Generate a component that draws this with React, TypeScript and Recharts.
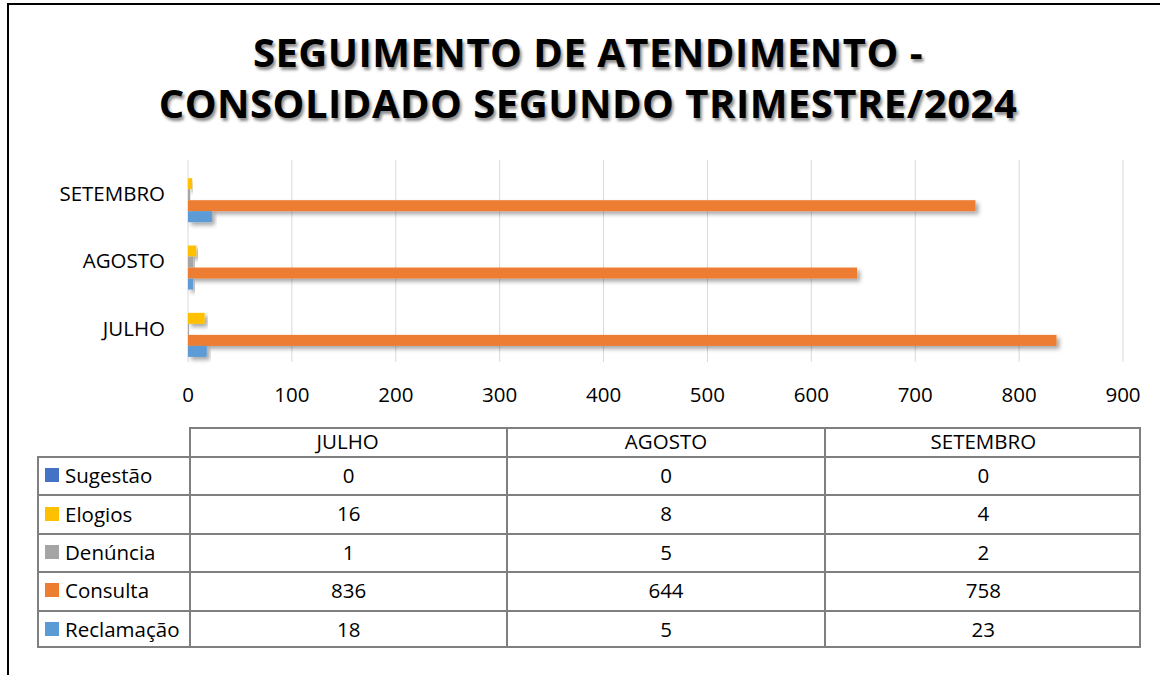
import React from 'react';
import { BarChart, Bar, XAxis, YAxis, CartesianGrid } from 'recharts';

const categories = ['JULHO', 'AGOSTO', 'SETEMBRO'];
const sugestao = [0, 0, 0];
const elogios = [16, 8, 4];
const denuncia = [1, 5, 2];
const consulta = [836, 644, 758];
const reclamacao = [18, 5, 23];
const xTicks = [0, 100, 200, 300, 400, 500, 600, 700, 800, 900];

const series = [
  { key: 'sugestao', name: 'Sugestão', color: '#4472C4', values: sugestao },
  { key: 'elogios', name: 'Elogios', color: '#FFC000', values: elogios },
  { key: 'denuncia', name: 'Denúncia', color: '#A5A5A5', values: denuncia },
  { key: 'consulta', name: 'Consulta', color: '#ED7D31', values: consulta },
  { key: 'reclamacao', name: 'Reclamação', color: '#5B9BD5', values: reclamacao },
];

const data = categories.map((month, i) => {
  const row: Record<string, any> = { month };
  series.forEach((s) => {
    row[s.key] = s.values[i];
  });
  return row;
});

const FONT = '"Open Sans", sans-serif';
const FS = 20.5;

const makeShape = (color: string) => (props: any) => {
  const { x, y, width, height } = props;
  if (!width || width <= 0) return <g />;
  return (
    <rect x={x} y={y} width={width} height={height} fill={color} filter="url(#barShadow)" />
  );
};

const GRID = '#7F7F7F';

export default function App() {
  const tableLeft = 37;
  const labelRight = 189;
  const tableRight = 1141;
  const headerTop = 427;
  const headerBottom = 456;
  const rowH = 38.4;
  const colW = (tableRight - labelRight) / categories.length;

  return (
    <div
      style={{
        position: 'absolute',
        left: 0,
        top: 0,
        width: 1160,
        height: 675,
        background: '#fff',
        overflow: 'hidden',
        fontFamily: FONT,
        color: '#000',
      }}
    >
      <div
        style={{
          position: 'absolute',
          left: 7,
          top: 3,
          width: 1200,
          height: 700,
          borderTop: '2px solid #000',
          borderLeft: '2px solid #000',
        }}
      />
      <div
        style={{
          position: 'absolute',
          left: 8,
          top: 26,
          width: 1160,
          textAlign: 'center',
          fontSize: 40,
          fontWeight: 700,
          lineHeight: '51px',
          letterSpacing: 0.5,
          textShadow: '2px 3px 3px rgba(0,0,0,0.45)',
        }}
      >
        SEGUIMENTO DE ATENDIMENTO -
        <br />
        CONSOLIDADO SEGUNDO TRIMESTRE/2024
      </div>

      <div style={{ position: 'absolute', left: 0, top: 0 }}>
        <BarChart
          width={1160}
          height={420}
          data={data}
          layout="vertical"
          margin={{ top: 160, right: 37, left: 0, bottom: 0 }}
          barCategoryGap="10.7%"
          barGap={0}
        >
          <defs>
            <filter id="barShadow" x="-10%" y="-50%" width="130%" height="250%">
              <feDropShadow dx="3" dy="3" stdDeviation="2" floodColor="#000" floodOpacity="0.35" />
            </filter>
          </defs>
          <CartesianGrid horizontal={false} vertical={true} stroke="#D9D9D9" strokeWidth={1} />
          <XAxis
            type="number"
            domain={[0, 900]}
            ticks={xTicks}
            interval={0}
            axisLine={false}
            tickLine={false}
            tickSize={0}
            tickMargin={25}
            height={58}
            tick={{ fill: '#000', fontSize: FS, fontFamily: FONT }}
          />
          <YAxis
            type="category"
            dataKey="month"
            reversed
            width={188}
            axisLine={false}
            tickLine={false}
            tickSize={0}
            tickMargin={23}
            tick={{ fill: '#000', fontSize: FS, fontFamily: FONT }}
          />
          {series.map((s) => (
            <Bar
              key={s.key}
              dataKey={s.key}
              name={s.name}
              fill={s.color}
              isAnimationActive={false}
              shape={makeShape(s.color)}
            />
          ))}
        </BarChart>
      </div>

      {/* Data table */}
      <div style={{ position: 'absolute', left: 0, top: 0, width: 1160, height: 675, fontSize: FS }}>
        <div
          style={{
            position: 'absolute',
            left: labelRight,
            top: headerTop,
            width: tableRight - labelRight,
            height: headerBottom - headerTop,
            borderTop: `2px solid ${GRID}`,
            borderLeft: `2px solid ${GRID}`,
            borderRight: `2px solid ${GRID}`,
            boxSizing: 'border-box',
          }}
        />
        {categories.map((c, i) => (
          <div
            key={c}
            style={{
              position: 'absolute',
              left: labelRight + i * colW,
              top: headerTop,
              width: colW,
              height: headerBottom - headerTop,
              lineHeight: `${headerBottom - headerTop}px`,
              textAlign: 'center',
              borderLeft: i > 0 ? `2px solid ${GRID}` : undefined,
              boxSizing: 'border-box',
            }}
          >
            {c}
          </div>
        ))}
        {series.map((s, r) => {
          const top = headerBottom + r * rowH;
          return (
            <React.Fragment key={s.key}>
              <div
                style={{
                  position: 'absolute',
                  left: tableLeft,
                  top,
                  width: tableRight - tableLeft,
                  height: rowH,
                  borderTop: `2px solid ${GRID}`,
                  borderLeft: `2px solid ${GRID}`,
                  borderRight: `2px solid ${GRID}`,
                  borderBottom: r === series.length - 1 ? `2px solid ${GRID}` : undefined,
                  boxSizing: 'border-box',
                }}
              />
              <div
                style={{
                  position: 'absolute',
                  left: tableLeft + 8,
                  top,
                  height: rowH,
                  display: 'flex',
                  alignItems: 'center',
                  whiteSpace: 'nowrap',
                }}
              >
                <span
                  style={{
                    display: 'inline-block',
                    width: 14,
                    height: 14,
                    background: s.color,
                    marginRight: 6,
                  }}
                />
                <span>{s.name}</span>
              </div>
              {categories.map((c, i) => (
                <div
                  key={c}
                  style={{
                    position: 'absolute',
                    left: labelRight + i * colW,
                    top,
                    width: colW,
                    height: rowH,
                    lineHeight: `${rowH}px`,
                    textAlign: 'center',
                    borderLeft: `2px solid ${GRID}`,
                    boxSizing: 'border-box',
                  }}
                >
                  {s.values[i]}
                </div>
              ))}
            </React.Fragment>
          );
        })}
      </div>
    </div>
  );
}
